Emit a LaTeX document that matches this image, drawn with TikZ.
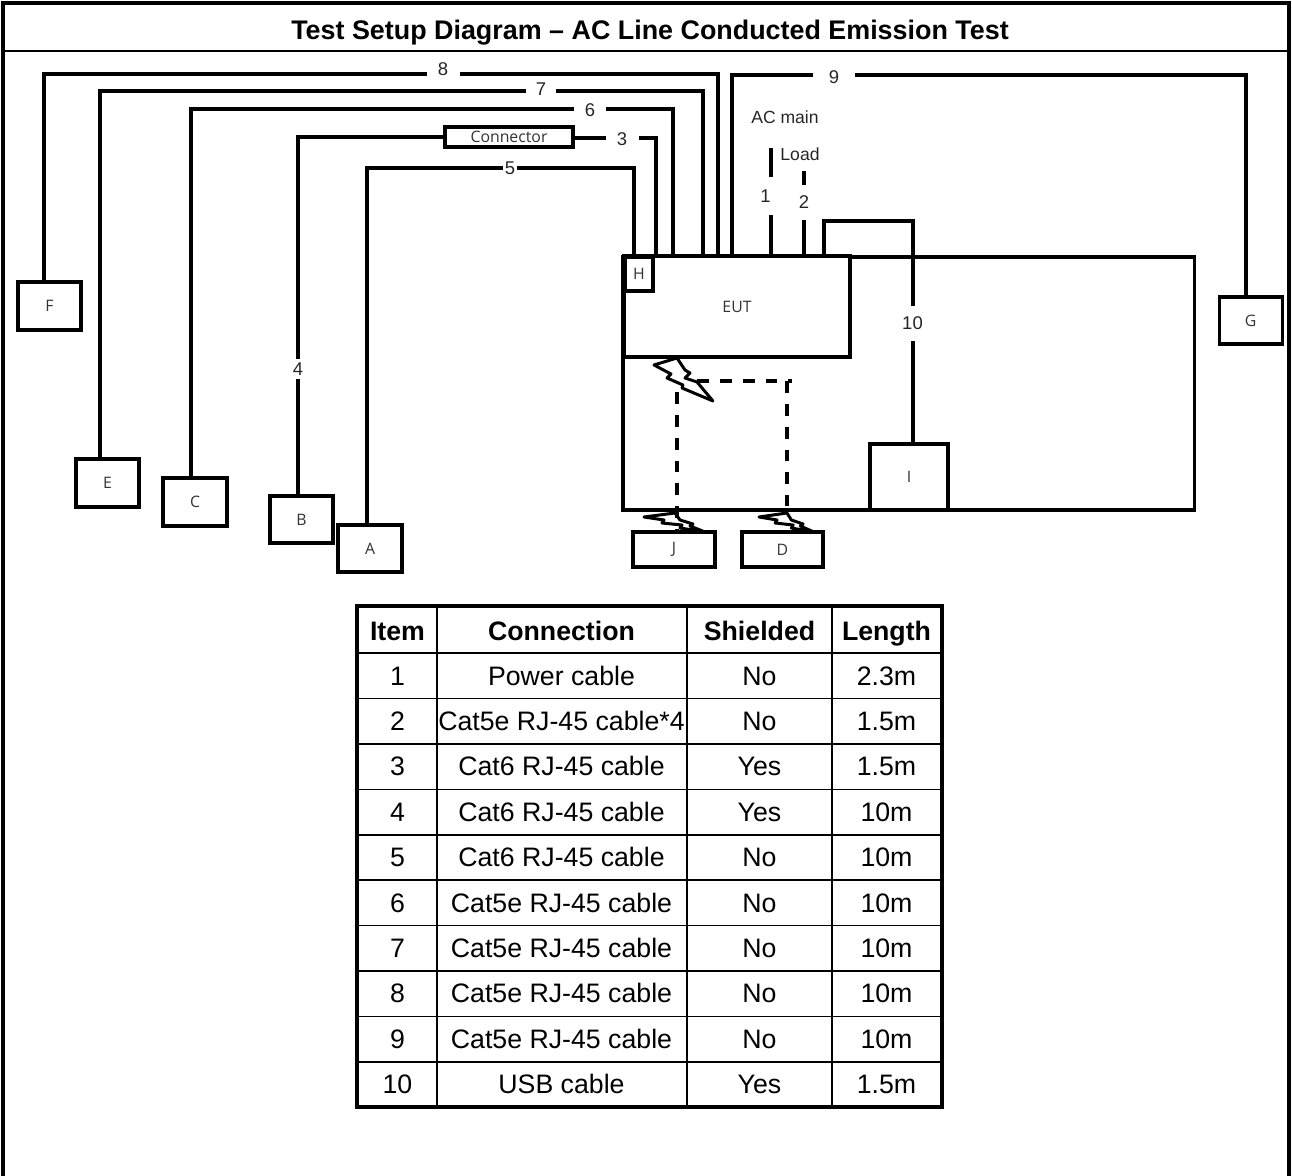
\documentclass[tikz,border=0pt]{standalone}
\usepackage{fontspec}
\setmainfont{Liberation Sans}
\newfontfamily\boxfont{Open Sans}
\usetikzlibrary{positioning}
\tikzset{
  cable/.style={
    line width=2.2pt,
    line join=miter
  },
  dashcable/.style={
    line width=1.72pt,
    dash pattern=on 6.8pt off 6.2pt
  },
  frameline/.style={
    line width=2.2pt
  },
  unitbox/.style={
    draw,
    line width=1.72pt,
    fill=white,
    shape=rectangle,
    inner sep=0pt,
    font=\boxfont\fontsize{9}{11}\selectfont,
    text=black!80
  },
  plain/.style={
    inner sep=0pt,
    font=\fontsize{10}{12}\selectfont,
    text=black!85
  },
  cablenum/.style={
    inner sep=0pt,
    fill=white,
    font=\fontsize{10.5}{12}\selectfont,
    text=black!85
  },
  cell/.style={
    inner sep=0pt,
    text height=14.2pt,
    text depth=3pt,
    font=\fontsize{15.2}{18}\selectfont
  },
  headcell/.style={
    cell,
    font=\fontsize{15.2}{18}\selectfont\bfseries
  },
  bolt/.style={
    draw,
    fill=white,
    line width=1.7pt,
    line join=round
  },
  smallbolt/.pic={
    \draw[bolt] (0,0) -- (31,-4) -- (36,3) -- (49,7) -- (46,9) -- (61,15)
      -- (36,11) -- (38,8) -- (18,6) -- (20,3) -- cycle;
  }
}
\begin{document}
\begin{tikzpicture}[x=0.02cm,y=-0.02cm]
    \useasboundingbox (0,0) rectangle (1292,1176);
    % page frame and title
    \coordinate (frameBL) at (3,1176);
    \coordinate (frameTL) at (3,3);
    \coordinate (frameTR) at (1289,3);
    \coordinate (frameBR) at (1289,1176);
    \draw[frameline] (frameBL) -- (frameTL) -- (frameTR) -- (frameBR);
    \draw[line width=0.9pt] (3,51) -- (1289,51);
    \node[inner sep=0pt, font=\fontsize{15.3}{18}\selectfont\bfseries] (title) at (650,32.5) {Test Setup Diagram -- AC Line Conducted Emission Test};
    % table and EUT outlines
    \draw[line width=1.72pt] (623,257) rectangle (1194,510);
    \node[unitbox, minimum width=226*0.02cm, minimum height=101*0.02cm] (eut) at (737,306.5) {EUT};
    \node[unitbox, minimum width=28*0.02cm, minimum height=34*0.02cm] (boxH) at (639,274) {H};
    % boxes round the EUT
    \foreach \name/\x/\y/\w/\h in {F/49.5/306/63/48,E/107.5/483/63/48,C/195/502/64/48,B/301.5/519.5/63/47,A/370/548.5/64/47,G/1250.5/320.5/63/47,I/909/477/78/66}
      \node[unitbox, minimum width=\w*0.02cm, minimum height=\h*0.02cm] (box\name) at (\x,\y) {\name};
    \node[unitbox, minimum width=82*0.02cm, minimum height=35*0.02cm] (boxJ) at (674,549.5) {J};
    \node[unitbox, minimum width=81*0.02cm, minimum height=35*0.02cm] (boxD) at (782.5,549.5) {D};
    \node[unitbox, minimum width=128*0.02cm, minimum height=20*0.02cm] (connector) at (509,137) {Connector};
    % cable ends
    \coordinate (f8) at (44,282);
    \coordinate (e7) at (100,459);
    \coordinate (c6) at (191,478);
    \coordinate (b4) at (298,496);
    \coordinate (a5) at (367,525);
    \coordinate (g9) at (1246,297);
    \coordinate (i10) at (913,444);
    \coordinate (main1) at (771,148);
    \coordinate (load2) at (804,171);
    % cables into the EUT
    \draw[cable] (f8) |- (718,74) -- (718,256);
    \draw[cable] (e7) |- (703,91) -- (703,256);
    \draw[cable] (c6) |- (673,109) -- (673,256);
    \draw[cable] (b4) |- (connector.west);
    \draw[cable] (connector.east |- 0,138) -- (656,138) -- (656,256);
    \draw[cable] (a5) |- (634,168) -- (634,256);
    \draw[cable] (g9) |- (732,75) -- (732,256);
    \draw[cable] (main1) -- (771,256);
    \draw[cable] (load2) -- (804,256);
    \draw[cable] (i10) |- (824,221) -- (824,256);
    % cable numbers
    \node[cablenum, minimum width=33*0.02cm, minimum height=16*0.02cm] (num8) at (443,69) {8};
    \node[cablenum, minimum width=30*0.02cm, minimum height=16*0.02cm] (num7) at (541,89) {7};
    \node[cablenum, minimum width=32*0.02cm, minimum height=16*0.02cm] (num6) at (590,110) {6};
    \node[cablenum, minimum width=33*0.02cm, minimum height=16*0.02cm] (num3) at (622,139) {3};
    \node[cablenum, minimum width=14*0.02cm, minimum height=16*0.02cm] (num5) at (510,168) {5};
    \node[cablenum, minimum width=12*0.02cm, minimum height=20*0.02cm] (num4) at (298,369) {4};
    \node[cablenum, minimum width=42*0.02cm, minimum height=16*0.02cm] (num9) at (834,77) {9};
    \node[cablenum, minimum width=18*0.02cm, minimum height=38*0.02cm] (num1) at (765.5,196) {1};
    \node[cablenum, minimum width=12*0.02cm, minimum height=35*0.02cm] (num2) at (804,202.5) {2};
    \node[cablenum, minimum width=24*0.02cm, minimum height=35*0.02cm] (num10) at (912.5,323) {10};
    \node[plain] (acmain) at (785,117) {AC main};
    \node[plain] (load) at (800,154) {Load};
    % wireless links
    \pic at (644,517) {smallbolt};
    \pic[xscale=0.9] at (759,517) {smallbolt};
    \draw[dashcable] (677,392) -- (677,532);
    \draw[dashcable] (697,381) -- (792,381);
    \draw[dashcable] (787,381) -- (787,506);
    \draw[bolt] (677,358) -- (654,365) -- (671,374) -- (667,378) -- (683,385) -- (682,388) -- (713,401)
      -- (697,382) -- (685,378) -- (690,373) -- (685,370) -- cycle;
    % table
    \draw[line width=2.8pt] (357,606) rectangle (942,1107);
    \foreach \y in {653,698.5,744,789.5,835,880,925.5,971,1016.5,1062}
      \draw[line width=1pt] (357,\y) -- (942,\y);
    \foreach \x in {437,687,832}
      \draw[line width=1pt] (\x,606) -- (\x,1107);
    \node[headcell] (headItem) at (397.5,631) {Item};
    \node[headcell] (headConn) at (561.5,631) {Connection};
    \node[headcell] (headShield) at (759.5,631) {Shielded};
    \node[headcell] (headLength) at (886.5,631) {Length};
    \foreach \n/\y/\conn/\shield/\len in {
      1/676/Power cable/No/2.3m,
      2/721/Cat5e RJ-45 cable*4/No/1.5m,
      3/766/Cat6 RJ-45 cable/Yes/1.5m,
      4/812/Cat6 RJ-45 cable/Yes/10m,
      5/857/Cat6 RJ-45 cable/No/10m,
      6/903/Cat5e RJ-45 cable/No/10m,
      7/948/Cat5e RJ-45 cable/No/10m,
      8/993/Cat5e RJ-45 cable/No/10m,
      9/1039/Cat5e RJ-45 cable/No/10m,
      10/1084/USB cable/Yes/1.5m}
    {
      \node[cell] (item\n) at (397.5,\y) {\n};
      \node[cell] (conn\n) at (561.5,\y) {\conn};
      \node[cell] (shield\n) at (759.5,\y) {\shield};
      \node[cell] (len\n) at (886.5,\y) {\len};
    }
\end{tikzpicture}
\end{document}
